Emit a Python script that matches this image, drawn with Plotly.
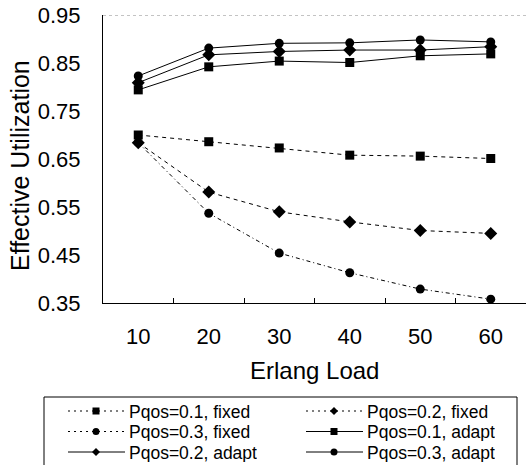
import plotly.graph_objects as go

loads = ["10", "20", "30", "40", "50", "60"]
fixed_01 = [0.700, 0.686, 0.673, 0.658, 0.656, 0.651]
fixed_02 = [0.684, 0.581, 0.540, 0.519, 0.501, 0.495]
fixed_03 = [0.684, 0.537, 0.454, 0.413, 0.379, 0.358]
adapt_01 = [0.794, 0.842, 0.854, 0.851, 0.865, 0.869]
adapt_02 = [0.809, 0.867, 0.874, 0.877, 0.877, 0.884]
adapt_03 = [0.823, 0.881, 0.891, 0.892, 0.898, 0.894]
series_names = ["Pqos=0.1, fixed", "Pqos=0.2, fixed", "Pqos=0.3, fixed",
                "Pqos=0.1, adapt", "Pqos=0.2, adapt", "Pqos=0.3, adapt"]
y_ticks = [0.35, 0.45, 0.55, 0.65, 0.75, 0.85, 0.95]

series_vals = [fixed_01, fixed_02, fixed_03, adapt_01, adapt_02, adapt_03]
symbols = ["square", "diamond", "circle", "square", "diamond", "circle"]
dashes = ["4px,4px", "4px,4px", "4px,3px,1px,3px", "solid", "solid", "solid"]
sizes = [9, 10, 9, 9, 10, 9]

FONT = "Liberation Sans"
W, H = 526, 465
L, R, T, B = 103, 0, 15, 162
PW, PH = W - L - R, H - T - B


def px(x):
    return (x - L) / PW


def py(y):
    return (H - B - y) / PH


fig = go.Figure()
for name, vals, sym, dash, size in zip(series_names, series_vals, symbols, dashes, sizes):
    fig.add_trace(go.Scatter(
        x=loads, y=vals, name=name, mode="lines+markers", showlegend=False,
        line=dict(color="black", width=1, dash=dash),
        marker=dict(symbol=sym, size=size, color="black"),
    ))

shapes = [dict(type="line", xref="paper", yref="y", x0=0, x1=1, y0=0.95, y1=0.95,
               line=dict(color="#888888", width=1, dash="dot"))]
annotations = []

# manual legend box
shapes.append(dict(type="rect", xref="paper", yref="paper",
                   x0=px(44), x1=px(517), y0=py(397), y1=py(475),
                   line=dict(color="black", width=1), fillcolor="white", layer="above"))
legend_dash = ["2px,4px", "2px,4px", "2px,4px", "solid", "solid", "solid"]
col_x = [68, 306]
row_y = [411, 431.5, 452]
for i, name in enumerate(series_names):
    cx = col_x[i % 2]
    cy = row_y[i // 2]
    shapes.append(dict(type="line", xref="paper", yref="paper",
                       x0=px(cx), x1=px(cx + 57), y0=py(cy), y1=py(cy),
                       line=dict(color="black", width=1, dash=legend_dash[i]), layer="above"))
    mx = cx + 28
    s = 3.5
    sym = symbols[i]
    if sym == "square":
        shapes.append(dict(type="rect", xref="paper", yref="paper",
                           x0=px(mx - s), x1=px(mx + s), y0=py(cy + s), y1=py(cy - s),
                           line=dict(width=0), fillcolor="black", layer="above"))
    elif sym == "circle":
        shapes.append(dict(type="circle", xref="paper", yref="paper",
                           x0=px(mx - s), x1=px(mx + s), y0=py(cy + s), y1=py(cy - s),
                           line=dict(width=0), fillcolor="black", layer="above"))
    else:
        d = 4
        path = "M {} {} L {} {} L {} {} L {} {} Z".format(
            px(mx), py(cy - d), px(mx + d), py(cy), px(mx), py(cy + d), px(mx - d), py(cy))
        shapes.append(dict(type="path", xref="paper", yref="paper", path=path,
                           line=dict(width=0), fillcolor="black", layer="above"))
    annotations.append(dict(xref="paper", yref="paper", x=px(cx + 60), y=py(cy),
                            xanchor="left", yanchor="middle", showarrow=False,
                            height=19, borderpad=0, valign="middle",
                            text=name, font=dict(family=FONT, size=17.5, color="black")))

annotations.append(dict(xref="paper", yref="paper", x=px(20), y=py(166),
                        xanchor="center", yanchor="middle", showarrow=False, textangle=-90,
                        text="Effective Utilization",
                        font=dict(family=FONT, size=25, color="black")))
annotations.append(dict(xref="paper", yref="paper", x=0.5, y=py(370),
                        xanchor="center", yanchor="middle", showarrow=False,
                        text="Erlang Load", font=dict(family=FONT, size=24, color="black")))

fig.update_layout(
    width=W, height=H,
    margin=dict(l=L, r=R, t=T, b=B, autoexpand=False),
    paper_bgcolor="white", plot_bgcolor="white",
    font=dict(family=FONT, color="black", size=22),
    showlegend=False,
    shapes=shapes, annotations=annotations,
    xaxis=dict(
        type="category", tickson="boundaries", ticks="inside", ticklen=5,
        tickcolor="black", showline=True, linecolor="black", linewidth=1,
        showgrid=False, range=[-0.5, 5.5], ticklabelstandoff=14,
        tickfont=dict(size=22),
    ),
    yaxis=dict(
        range=[0.35, 0.95], tickvals=y_ticks,
        ticktext=["{:.2f}".format(v) for v in y_ticks],
        showline=True, linecolor="black", linewidth=1, showgrid=False,
        ticks="", ticklabelstandoff=17, zeroline=False,
        tickfont=dict(size=22),
    ),
)

fig.write_html("out.html", config={"displayModeBar": False},
               post_script="document.body.style.margin='0px';")
